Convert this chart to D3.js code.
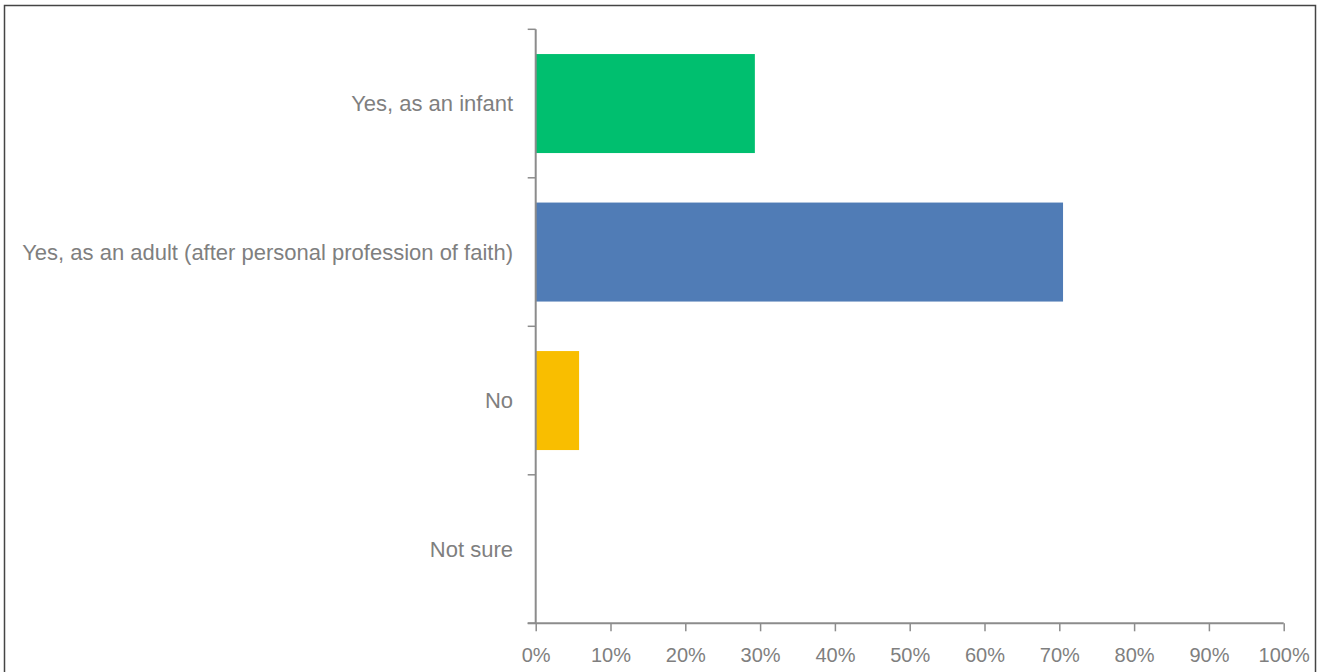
<!DOCTYPE html>
<html>
<head>
<meta charset="utf-8">
<script src="https://cdn.jsdelivr.net/npm/d3@7"></script>
<style>
  html, body { margin: 0; padding: 0; background: #fff; }
  svg { display: block; }
  text { font-family: "Liberation Sans", Arial, sans-serif; fill: #7f7f7f; }
</style>
</head>
<body>
<svg id="chart" width="1325" height="672"></svg>
<script>
// Survey answers and their shares (percent of respondents)
const categories = [
  "Yes, as an infant",
  "Yes, as an adult (after personal profession of faith)",
  "No",
  "Not sure"
];
const values = [29.3, 70.5, 5.8, 0];
const barColors = ["#00bf6f", "#507cb6", "#f9be00", "#a5a5a5"];
const tickValues = [0, 10, 20, 30, 40, 50, 60, 70, 80, 90, 100];

const svg = d3.select("#chart");

// frame around the chart area
svg.append("path")
  .attr("d", "M4.5,672 V5.5 H1315.5 V672")
  .attr("fill", "none")
  .attr("stroke", "#444")
  .attr("stroke-width", 1.5);

const x = d3.scaleLinear().domain([0, 100]).range([535.7, 1283.7]);
const y = d3.scaleBand()
  .domain(categories)
  .range([29.3, 623.3])
  .paddingInner(1 / 3)
  .paddingOuter(1 / 6);

// bars
svg.append("g")
  .selectAll("rect")
  .data(categories)
  .join("rect")
  .attr("x", x(0))
  .attr("y", d => y(d))
  .attr("width", (d, i) => x(values[i]) - x(0))
  .attr("height", y.bandwidth())
  .attr("fill", (d, i) => barColors[i]);

// category axis: ticks sit on band boundaries
const yAxis = svg.append("g").attr("class", "y-axis");
const step = y.step();
const bounds = d3.range(categories.length + 1).map(i => 29.3 + i * step);
yAxis.append("line")
  .attr("x1", x(0)).attr("x2", x(0))
  .attr("y1", bounds[0]).attr("y2", bounds[bounds.length - 1])
  .attr("stroke", "#8c8c8c").attr("stroke-width", 2);
yAxis.selectAll("line.tick")
  .data(bounds)
  .join("line")
  .attr("class", "tick")
  .attr("x1", x(0) - 8).attr("x2", x(0))
  .attr("y1", d => d).attr("y2", d => d)
  .attr("stroke", "#8c8c8c").attr("stroke-width", 1.5);
yAxis.selectAll("text")
  .data(categories)
  .join("text")
  .attr("x", 513)
  .attr("y", d => y(d) + y.bandwidth() / 2)
  .attr("dy", "0.34em")
  .attr("text-anchor", "end")
  .attr("font-size", 22)
  .text(d => d);

// value axis at the bottom
const xAxis = d3.axisBottom(x)
  .tickValues(tickValues)
  .tickFormat(d => d + "%")
  .tickSizeInner(8)
  .tickSizeOuter(0)
  .tickPadding(17);
const gx = svg.append("g")
  .attr("transform", "translate(0,623.3)")
  .call(xAxis);
gx.select(".domain").attr("stroke", "#8c8c8c").attr("stroke-width", 2);
gx.selectAll(".tick line").attr("stroke", "#8c8c8c").attr("stroke-width", 1.5);
gx.selectAll(".tick text")
  .attr("font-family", "Liberation Sans, Arial, sans-serif")
  .attr("font-size", 20)
  .attr("fill", "#7f7f7f");
// extend the axis line slightly left so it meets the category axis ticks
gx.select(".domain").attr("d", `M${x(0) - 8},0H${x(100)}`);
</script>
</body>
</html>
